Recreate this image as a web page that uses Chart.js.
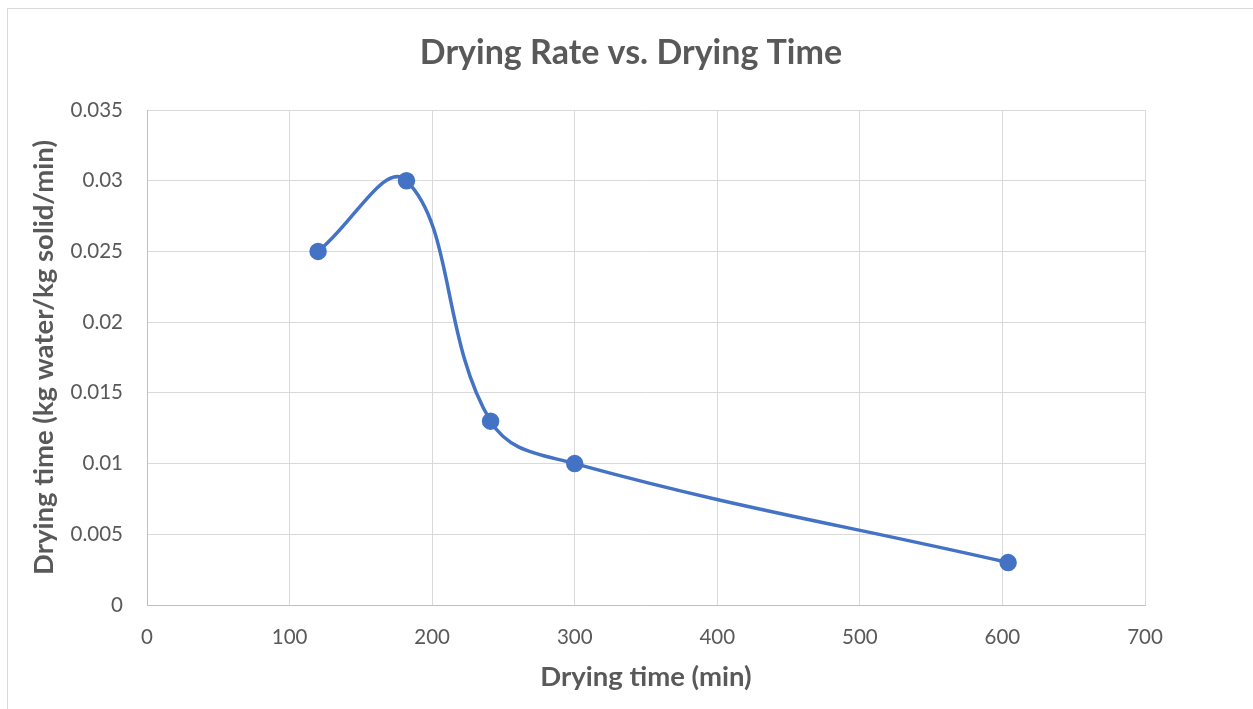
<!DOCTYPE html>
<html>
<head>
<meta charset="utf-8">
<script src="https://cdn.jsdelivr.net/npm/chart.js@4"></script>
<style>
  html, body { margin: 0; padding: 0; background: #fff; overflow: hidden; }
  #frame { position: absolute; left: 7px; top: 8px; width: 1270px; height: 720px; border: 1px solid #d9d9d9; }
  #wrap { position: absolute; left: 0; top: 0; width: 1253px; height: 709px; }
</style>
</head>
<body>
<div id="frame"></div>
<div id="wrap"><canvas id="myChart" width="1253" height="709"></canvas></div>
<script>
// drying time (min) and drying rate
var dryingTime = [120, 182, 241, 300, 604];
var dryingRate = [0.025, 0.03, 0.013, 0.01, 0.003];

var xTicks = [0, 100, 200, 300, 400, 500, 600, 700];
var yTicks = [0, 0.005, 0.01, 0.015, 0.02, 0.025, 0.03, 0.035];

var chartTitle = "Drying Rate vs. Drying Time";

var points = dryingTime.map(function (t, i) {
  return { x: t, y: dryingRate[i] };
});

var grey = "#595959";

// chart title centred on the whole frame, like the Excel original
var titlePlugin = {
  id: "frameTitle",
  afterDraw: function (chart) {
    var c = chart.ctx;
    c.save();
    c.fillStyle = grey;
    c.font = "bold 34px Lato";
    c.textAlign = "center";
    c.textBaseline = "middle";
    c.fillText(chartTitle, 631, 53);
    c.restore();
  },
};

window.onload = function () {
  var ctx = document.getElementById("myChart").getContext("2d");
  new Chart(ctx, {
    type: "scatter",
    data: {
      datasets: [
        {
          label: "Drying rate",
          data: points,
          showLine: true,
          tension: 0.4,
          borderColor: "#4472C4",
          backgroundColor: "#4472C4",
          borderWidth: 3.5,
          pointRadius: 7,
          pointHoverRadius: 7,
        },
      ],
    },
    plugins: [titlePlugin],
    options: {
      responsive: false,
      animation: false,
      layout: { padding: { left: 28, right: 108, top: 110, bottom: 0 } },
      plugins: {
        legend: { display: false },
        tooltip: { enabled: false },
        title: { display: false },
      },
      scales: {
        x: {
          type: "linear",
          min: xTicks[0],
          max: xTicks[xTicks.length - 1],
          afterBuildTicks: function (axis) {
            axis.ticks = xTicks.map(function (v) { return { value: v }; });
          },
          afterFit: function (axis) { axis.height = 104; },
          grid: { color: "#d9d9d9", drawTicks: false },
          border: { color: "#bfbfbf", width: 1 },
          ticks: {
            color: grey,
            padding: 20,
            maxRotation: 0,
            font: { family: "Lato", size: 20.5 },
          },
          title: {
            display: true,
            text: "Drying time (min)",
            color: grey,
            font: { family: "Lato", size: 27.5, weight: "bold" },
            padding: { top: 0, bottom: 15.5 },
          },
        },
        y: {
          type: "linear",
          min: yTicks[0],
          max: yTicks[yTicks.length - 1],
          afterBuildTicks: function (axis) {
            axis.ticks = yTicks.map(function (v) { return { value: v }; });
          },
          afterFit: function (axis) { axis.width = 119; },
          grid: { color: "#d9d9d9", drawTicks: false },
          border: { color: "#bfbfbf", width: 1 },
          ticks: {
            color: grey,
            padding: 24,
            font: { family: "Lato", size: 20.5 },
            callback: function (v) { return String(+v.toFixed(3)); },
          },
          title: {
            display: true,
            text: "Drying time (kg water/kg solid/min)",
            color: grey,
            font: { family: "Lato", size: 27.5, weight: "bold" },
            padding: { top: 0, bottom: 0 },
          },
        },
      },
    },
  });
};
</script>
</body>
</html>
